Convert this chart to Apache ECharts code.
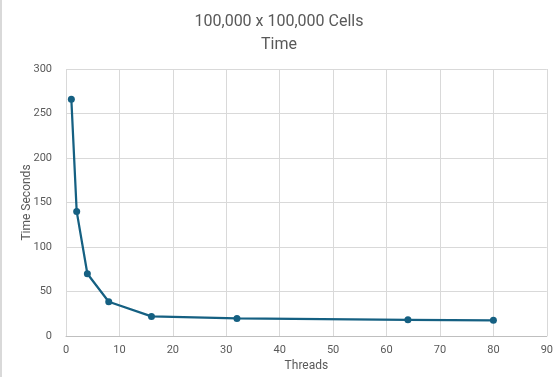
<!DOCTYPE html>
<html>
<head>
<meta charset="utf-8">
<script src="https://cdn.jsdelivr.net/npm/echarts@6/dist/echarts.min.js"></script>
<style>
  html, body { margin: 0; padding: 0; background: #fff; }
  #chart { width: 556px; height: 377px; box-sizing: border-box; border-left: 2px solid #d9d9d9; }
</style>
</head>
<body>
<div id="chart"></div>
<script>
// thread counts and run times
var threads = [1, 2, 4, 8, 16, 32, 64, 80];
var seconds = [266, 140, 70, 38.5, 22, 19.8, 18.2, 17.6];

var chart = echarts.init(document.getElementById("chart"));

var textColor = "#595959";
var font = "Roboto, 'Liberation Sans', sans-serif";

chart.setOption({
  animation: false,
  textStyle: { fontFamily: font },
  title: {
    text: "100,000 x 100,000 Cells\nTime",
    left: "center",
    top: 5,
    textStyle: {
      color: textColor,
      fontSize: 16,
      fontWeight: "normal",
      lineHeight: 23,
      fontFamily: font
    }
  },
  grid: { left: 64, right: 8, top: 69, bottom: 40 },
  xAxis: {
    type: "value",
    min: 0,
    max: 90,
    interval: 10,
    name: "Threads",
    nameLocation: "middle",
    nameGap: 24,
    nameMoveOverlap: false,
    nameTextStyle: { color: textColor, fontSize: 12 },
    axisLine: { show: true, lineStyle: { color: "#bfbfbf" } },
    axisTick: { show: false },
    axisLabel: { color: textColor, fontSize: 11, margin: 9 },
    splitLine: { show: true, lineStyle: { color: "#d9d9d9" } }
  },
  yAxis: {
    type: "value",
    min: 0,
    max: 300,
    interval: 50,
    name: "Time Seconds",
    nameLocation: "middle",
    nameGap: 33,
    nameMoveOverlap: false,
    nameTextStyle: { color: textColor, fontSize: 12 },
    axisLine: { show: false },
    axisTick: { show: false },
    axisLabel: { color: textColor, fontSize: 11, margin: 14 },
    splitLine: { show: true, lineStyle: { color: "#d9d9d9" } }
  },
  series: [
    {
      type: "line",
      data: threads.map(function (t, i) { return [t, seconds[i]]; }),
      symbol: "circle",
      symbolSize: 7,
      lineStyle: { color: "#156082", width: 2.25 },
      itemStyle: { color: "#156082" }
    }
  ]
});
</script>
</body>
</html>
